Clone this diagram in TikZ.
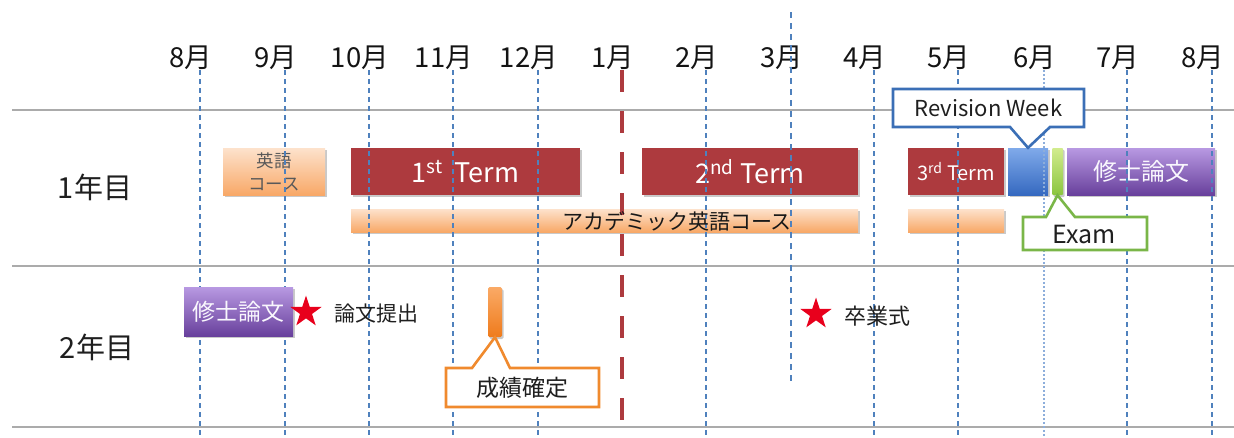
\documentclass[tikz,border=0pt]{standalone}
\usepackage{fontspec}
\setmainfont{Noto Sans CJK JP}
\usetikzlibrary{shadows,shapes.geometric}
\definecolor{termred}{HTML}{AD3A3E}
\definecolor{gridblue}{HTML}{4F81BD}
\definecolor{lightgridblue}{HTML}{8DAEDB}
\definecolor{sepgray}{HTML}{ABABAB}
\definecolor{orangetop}{HTML}{FDE2CC}
\definecolor{orangebot}{HTML}{F8A867}
\definecolor{bluetop}{HTML}{80AAEA}
\definecolor{bluebot}{HTML}{3569C0}
\definecolor{greentop}{HTML}{D2EC8E}
\definecolor{greenbot}{HTML}{8BC53F}
\definecolor{purpletop}{HTML}{B899E2}
\definecolor{purplebot}{HTML}{68409C}
\definecolor{gradetop}{HTML}{FAAA66}
\definecolor{gradebot}{HTML}{EF7B1C}
\definecolor{starred}{HTML}{E8001C}
\definecolor{calloutblue}{HTML}{3B6FB6}
\definecolor{calloutgreen}{HTML}{7AB648}
\definecolor{calloutorange}{HTML}{F08A2E}
\begin{document}
\begin{tikzpicture}[x=1pt,y=-1pt,
  sep/.style={draw=sepgray,line width=1.6pt},
  monthline/.style={draw=gridblue,line width=2pt,dash pattern=on 5pt off 4pt},
  sixline/.style={draw=lightgridblue,line width=1.1pt,dash pattern=on 2pt off 2pt},
  redline/.style={draw=termred,line width=4.5pt,dash pattern=on 22pt off 19pt},
  month/.style={font=\fontsize{27.5}{27.5}\selectfont,text=black!92,inner sep=0pt},
  rowlabel/.style={font=\fontsize{29}{29}\selectfont,text=black!88},
  shadowed/.style={drop shadow={shadow xshift=1.5pt,shadow yshift=-2pt,opacity=.3,fill=black!70}},
  bar/.style={rectangle,inner sep=0pt,draw=none,shadowed},
  termbox/.style={bar,fill=termred,text=white,minimum height=47pt},
  orangebox/.style={bar,top color=orangetop,bottom color=orangebot},
  bluebox/.style={bar,top color=bluetop,bottom color=bluebot},
  greenbox/.style={bar,top color=greentop,bottom color=greenbot},
  purplebox/.style={bar,top color=purpletop,bottom color=purplebot,text=white!92!purpletop},
  gradebox/.style={bar,top color=gradetop,bottom color=gradebot,rounded corners=1.5pt},
  redstar/.style={star,star points=5,star point ratio=2.6,fill=starred,draw=none,minimum size=33pt,inner sep=0pt},
  note/.style={font=\fontsize{21}{21}\selectfont,text=black!88,anchor=west,inner sep=0pt},
  callout/.style={line width=2.6pt,fill=white,line join=miter},
  callouttext/.style={font=\fontsize{22}{22}\selectfont,text=black!88,inner sep=0pt}
]
\useasboundingbox (0,0) rectangle (1234,437);

% separators
\draw[sep] (12,110) -- (1234,110);
\draw[sep] (12,266) -- (1234,266);
\draw[sep] (12,427) -- (1234,427);

% row labels
\node[rowlabel] (y1) at (95,187) {1年目};
\node[rowlabel] (y2) at (97,347) {2年目};

% row 1 boxes
\node[orangebox,minimum width=102pt,minimum height=47pt,text=black!65,align=center,font=\fontsize{17.5}{23}\selectfont] (eng) at (274,171.5) {英語\\コース};
\node[termbox,minimum width=229pt,font=\fontsize{27}{27}\selectfont] (t1) at (465.5,171.5) {1\textsuperscript{st}\ \ Term};
\node[termbox,minimum width=216pt,font=\fontsize{27}{27}\selectfont] (t2) at (750,171.5) {2\textsuperscript{nd} Term};
\node[termbox,minimum width=96pt,font=\fontsize{20}{20}\selectfont] (t3) at (956,171.5) {3\textsuperscript{rd} Term};
\node[bluebox,minimum width=40pt,minimum height=47pt] (rev) at (1028,171.5) {};
\node[greenbox,minimum width=11pt,minimum height=47pt,rounded corners=1pt] (ex) at (1057.5,171.5) {};
\node[purplebox,minimum width=148pt,minimum height=47pt,font=\fontsize{24}{24}\selectfont] (th1) at (1141,171.5) {修士論文};
\node[orangebox,minimum width=507pt,minimum height=23pt] (acad) at (604.5,220.5) {};
\node[orangebox,minimum width=96pt,minimum height=23pt] (acad2) at (956,220.5) {};

% month grid lines
\foreach \x in {200,285,369,453,538,706,874,958,1127,1212}
  \draw[monthline] (\x,70) -- (\x,437);
\draw[sixline] (1044,70) -- (1044,437);
\draw[redline] (622,70) -- (622,437);

\node[font=\fontsize{21}{21}\selectfont,text=black!90] (acadtxt) at (677,221) {アカデミック英語コース};

% month labels
\foreach \x/\m in {200/8,285/9,369/10,453/11,538/12,622/1,706/2,791/3,874/4,958/5,1044/6,1127/7,1212/8}
  \node[month] at (\x-9,58) {\m 月};
\draw[monthline,line width=1.8pt,dash pattern=on 6pt off 5pt] (791,12) -- (791,382);

% callouts row 1
\draw[callout,draw=calloutblue] (893,89) -- (1084,89) -- (1084,127) -- (1050,127) -- (rev.north) -- (1010,127) -- (893,127) -- cycle;
\node[callouttext] (revtxt) at (988.5,108) {Revision Week};
\draw[callout,draw=calloutgreen] (1023,217) -- (1046,217) -- (ex.south) -- (1075,217) -- (1147,217) -- (1147,250) -- (1023,250) -- cycle;
\node[callouttext,font=\fontsize{25}{25}\selectfont] (extxt) at (1084,234) {Exam};

% row 2
\node[purplebox,minimum width=109pt,minimum height=49pt,font=\fontsize{23}{23}\selectfont] (th2) at (238.5,311.5) {修士論文};
\node[redstar] (s1) at (306,312) {};
\node[note] (sub) at (334,314) {論文提出};
\node[gradebox,minimum width=14pt,minimum height=50pt] (gb) at (495,312) {};
\draw[callout,draw=calloutorange] (446,368) -- (472,368) -- (gb.south) -- (510,368) -- (599,368) -- (599,407) -- (446,407) -- cycle;
\node[callouttext,font=\fontsize{23}{23}\selectfont] (gradetxt) at (522,388) {成績確定};
\node[redstar] (s2) at (816,314) {};
\node[note,font=\fontsize{22}{22}\selectfont] (grad) at (844,316) {卒業式};
\end{tikzpicture}
\end{document}
